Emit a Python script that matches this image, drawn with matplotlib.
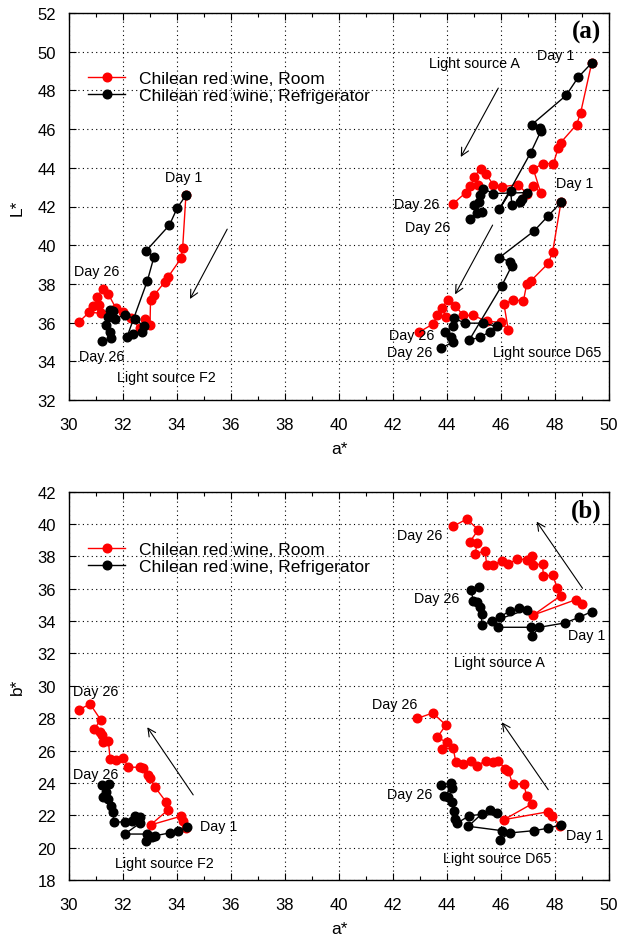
import matplotlib
matplotlib.use("Agg")
import matplotlib.pyplot as plt
from matplotlib.ticker import MultipleLocator

plt.rcParams['font.family'] = ['Liberation Sans', 'DejaVu Sans']

# ---------------- Panel (a): L* vs a* ----------------
# Light source F2
a_F2_room = [34.33, 34.21, 34.15, 33.68, 33.56, 33.16, 33.02, 33.00, 32.81, 32.63, 32.28,
             32.01, 31.74, 31.46, 31.25, 31.05, 31.12, 30.90, 31.17, 30.75, 30.38]
L_F2_room = [42.58, 39.87, 39.32, 38.38, 38.12, 37.43, 37.17, 35.88, 36.19, 35.71, 36.23,
             36.57, 36.74, 37.46, 37.74, 37.34, 36.91, 36.88, 36.48, 36.54, 36.05]
a_F2_ref = [34.33, 34.01, 33.72, 32.85, 33.15, 32.90, 32.14, 32.38, 32.69, 32.78, 32.44,
            32.07, 31.70, 31.64, 31.52, 31.46, 31.37, 31.52, 31.54, 31.21]
L_F2_ref = [42.58, 41.93, 41.04, 39.70, 39.41, 38.15, 35.23, 35.40, 35.51, 35.80, 36.19,
            36.40, 36.19, 36.60, 36.65, 36.31, 35.88, 35.54, 35.20, 35.03]

# Light source A
a_A_room = [49.36, 48.95, 48.80, 48.21, 48.12, 47.94, 47.54, 47.20, 47.47, 47.20, 46.95,
            46.64, 46.03, 45.72, 45.44, 45.25, 45.00, 45.16, 44.85, 44.70, 44.23]
L_A_room = [49.42, 46.85, 46.23, 45.30, 45.03, 44.22, 44.22, 43.92, 42.72, 43.07, 42.67,
            43.13, 43.02, 43.10, 43.70, 43.96, 43.53, 43.10, 43.07, 42.72, 42.15]
a_A_ref = [49.36, 48.86, 48.41, 47.14, 47.44, 47.47, 47.10, 45.94, 46.36, 46.40, 46.70,
           46.77, 46.95, 45.72, 45.32, 45.22, 45.20, 45.00, 45.28, 45.10, 44.85]
L_A_ref = [49.42, 48.68, 47.74, 46.23, 46.05, 45.88, 44.78, 41.86, 42.79, 42.10, 42.24,
           42.41, 42.72, 42.67, 42.93, 42.58, 42.24, 42.10, 41.72, 41.64, 41.35]

# Light source D65
a_D65_room = [48.22, 47.91, 47.75, 47.10, 46.95, 46.83, 46.43, 46.11, 46.27, 45.99, 45.47,
              44.98, 44.60, 44.30, 44.05, 43.80, 43.96, 43.64, 43.47, 42.97]
L_D65_room = [42.21, 39.63, 39.06, 38.15, 37.98, 37.12, 37.17, 36.95, 35.62, 36.02, 36.06,
              36.37, 36.37, 36.88, 37.17, 36.78, 36.31, 36.37, 35.92, 35.51]
a_D65_ref = [48.22, 47.75, 47.22, 45.94, 46.33, 46.40, 46.03, 44.83, 45.22, 45.59, 45.86,
             45.34, 44.67, 44.26, 44.21, 43.93, 44.14, 44.23, 43.77]
L_D65_ref = [42.21, 41.52, 40.73, 39.36, 39.15, 38.94, 37.91, 35.11, 35.23, 35.54, 35.80,
             35.97, 35.97, 36.23, 35.80, 35.51, 35.23, 34.99, 34.68]

# ---------------- Panel (b): b* vs a* ----------------
ab_F2_room = [34.33, 34.21, 34.14, 33.02, 33.68, 33.59, 33.19, 33.00, 32.94, 32.75, 32.63,
              32.20, 32.01, 31.74, 31.52, 31.46, 31.25, 31.21, 31.15, 30.94, 31.17, 30.78, 30.38]
b_F2_room = [21.20, 21.67, 21.94, 21.40, 22.35, 22.84, 23.73, 24.29, 24.49, 24.90, 24.97,
             24.97, 25.52, 25.44, 25.48, 26.61, 26.55, 26.96, 27.17, 27.33, 27.91, 28.88, 28.53]
ab_F2_ref = [34.36, 34.05, 33.74, 33.19, 33.06, 32.85, 32.90, 32.07, 32.63, 32.63, 32.44,
             32.32, 32.07, 31.67, 31.62, 31.54, 31.46, 31.27, 31.37, 31.21, 31.49]
b_F2_ref = [21.26, 21.01, 20.91, 20.74, 20.64, 20.43, 20.84, 20.84, 21.52, 21.88, 21.94,
            21.67, 21.60, 21.57, 22.22, 22.59, 23.01, 23.11, 23.46, 23.87, 23.93]

ab_A_room = [48.99, 48.78, 47.20, 48.21, 48.09, 47.91, 47.57, 47.54, 47.20, 47.14, 46.95,
             46.60, 46.27, 46.03, 45.72, 45.47, 45.41, 45.04, 45.12, 44.85, 45.16, 44.73, 44.23]
b_A_room = [35.06, 35.33, 34.38, 35.57, 36.03, 36.85, 36.77, 37.53, 37.47, 38.01, 37.80,
            37.84, 37.53, 37.74, 37.47, 37.47, 38.35, 38.15, 38.83, 38.91, 39.65, 40.31, 39.86]
ab_A_ref = [49.36, 48.90, 48.37, 47.42, 47.14, 47.10, 45.90, 45.65, 45.96, 46.33, 46.68,
            46.95, 45.28, 45.28, 45.22, 45.10, 44.98, 44.88, 45.20]
b_A_ref = [34.59, 34.24, 33.89, 33.62, 33.06, 33.62, 33.62, 34.03, 34.24, 34.65, 34.79,
           34.71, 33.76, 34.44, 34.85, 35.16, 35.26, 35.94, 36.09]

ab_D65_room = [48.19, 47.88, 47.75, 46.11, 47.14, 46.95, 46.85, 46.43, 46.27, 46.15, 45.90,
               45.72, 45.44, 45.10, 44.88, 44.60, 44.33, 44.23, 43.80, 43.99, 43.64, 43.96,
               43.47, 42.90]
b_D65_room = [21.36, 21.98, 22.22, 21.73, 22.70, 23.17, 23.93, 23.93, 24.76, 24.86, 25.37,
              25.27, 25.37, 25.07, 25.37, 25.17, 25.27, 26.14, 26.10, 26.51, 26.82, 27.58,
              28.32, 27.99]
ab_D65_ref = [48.22, 47.75, 47.22, 46.33, 45.96, 46.03, 44.79, 45.28, 45.59, 45.84, 44.83,
              44.38, 44.30, 44.26, 44.17, 44.05, 43.89, 44.17, 43.77, 44.14]
b_D65_ref = [21.42, 21.20, 21.05, 20.91, 20.49, 21.05, 21.32, 22.08, 22.35, 22.14, 21.98,
             21.52, 21.77, 22.28, 22.80, 23.11, 23.17, 23.67, 23.87, 24.00]

series_labels = ['Chilean red wine, Room', 'Chilean red wine, Refrigerator']
x_ticks = list(range(30, 51, 2))
L_ticks = list(range(32, 53, 2))
b_ticks = list(range(18, 43, 2))

# annotations: (text, x, y)
texts_a = [('Day 1', 34.23, 43.53), ('Day 26', 31.02, 38.67), ('Day 26', 31.22, 34.25),
           ('Light source F2', 33.62, 33.17),
           ('Light source A', 45.0, 49.41), ('Day 1', 48.02, 49.85),
           ('Day 26', 42.86, 42.12), ('Day 26', 43.30, 40.92),
           ('Day 1', 48.74, 43.19), ('Day 26', 42.70, 35.35), ('Day 26', 42.62, 34.47),
           ('Light source D65', 47.71, 34.47)]
arrows_a = [((35.86, 40.83), (34.48, 37.22)), ((45.90, 48.12), (44.51, 44.56)),
            ((45.69, 41.04), (44.30, 37.46))]
texts_b = [('Day 26', 30.97, 29.66), ('Day 26', 30.97, 24.55), ('Day 1', 35.54, 21.36),
           ('Light source F2', 33.53, 19.05),
           ('Day 26', 42.97, 39.32), ('Day 26', 43.60, 35.41), ('Day 1', 49.17, 33.14),
           ('Light source A', 45.96, 31.47),
           ('Day 26', 42.07, 28.88), ('Day 26', 42.62, 23.30), ('Day 1', 49.09, 20.78),
           ('Light source D65', 45.86, 19.38)]
arrows_b = [((34.60, 23.26), (32.90, 27.44)), ((49.02, 36.03), (47.32, 40.15)),
            ((47.75, 23.58), (46.03, 27.75))]

fig = plt.figure(figsize=(6.18, 9.37), dpi=100)
ax1 = fig.add_axes([69/618, 1-401/937, 540/618, 387/937])
ax2 = fig.add_axes([69/618, 1-881/937, 540/618, 388.3/937])

ms = 6.2
lw = 1.0

def draw(ax, room, ref, texts, arrows, yt, ylabel, tag, leg_y):
    for i, (x, y) in enumerate(room):
        ax.plot(x, y, '-o', color='red', lw=lw, ms=ms, mec='red',
                label=series_labels[0] if i == 0 else None, zorder=3)
    for i, (x, y) in enumerate(ref):
        ax.plot(x, y, '-o', color='black', lw=lw, ms=ms, mec='black',
                label=series_labels[1] if i == 0 else None, zorder=4)
    for t, x, y in texts:
        ax.text(x, y, t, fontsize=10.3, ha='center', va='center', zorder=5)
    for (x0, y0), (x1, y1) in arrows:
        ax.annotate('', xy=(x1, y1), xytext=(x0, y0),
                    arrowprops=dict(arrowstyle='->', lw=0.8, color='black',
                                    mutation_scale=14, shrinkA=0, shrinkB=0))
    ax.set_xlim(30, 50)
    ax.set_ylim(yt[0], yt[-1])
    ax.set_xticks(x_ticks)
    ax.set_yticks(yt)
    ax.xaxis.set_minor_locator(MultipleLocator(1))
    ax.tick_params(which='both', direction='in', top=True, right=True,
                   labelsize=12, width=0.8)
    ax.tick_params(which='major', length=5)
    ax.tick_params(axis='x', which='major', pad=12.5)
    ax.tick_params(axis='y', which='major', pad=9.5)
    ax.tick_params(which='minor', length=3)
    ax.grid(True, which='major', color='black', linestyle=(0, (1, 3)), lw=0.8)
    for s in ax.spines.values():
        s.set_linewidth(1.0)
    ax.set_xlabel('a*', fontsize=12.5, labelpad=6)
    ax.set_ylabel(ylabel, fontsize=12.5, labelpad=9)
    ax.text(49.15, yt[-1] - (yt[-1] - yt[0]) * 0.0475, tag, fontsize=18,
            fontweight='bold', family='Liberation Serif', ha='center', va='center')
    ax.legend(loc='upper left', bbox_to_anchor=(0.02, leg_y), frameon=False,
              fontsize=12.5, handlelength=2.1, handletextpad=0.8, labelspacing=0.15,
              borderpad=0)

draw(ax1,
     [(a_F2_room, L_F2_room), (a_A_room, L_A_room), (a_D65_room, L_D65_room)],
     [(a_F2_ref, L_F2_ref), (a_A_ref, L_A_ref), (a_D65_ref, L_D65_ref)],
     texts_a, arrows_a, L_ticks, 'L*', '(a)', 0.874)
draw(ax2,
     [(ab_F2_room, b_F2_room), (ab_A_room, b_A_room), (ab_D65_room, b_D65_room)],
     [(ab_F2_ref, b_F2_ref), (ab_A_ref, b_A_ref), (ab_D65_ref, b_D65_ref)],
     texts_b, arrows_b, b_ticks, 'b*', '(b)', 0.894)

fig.savefig('out.png', dpi=100)
